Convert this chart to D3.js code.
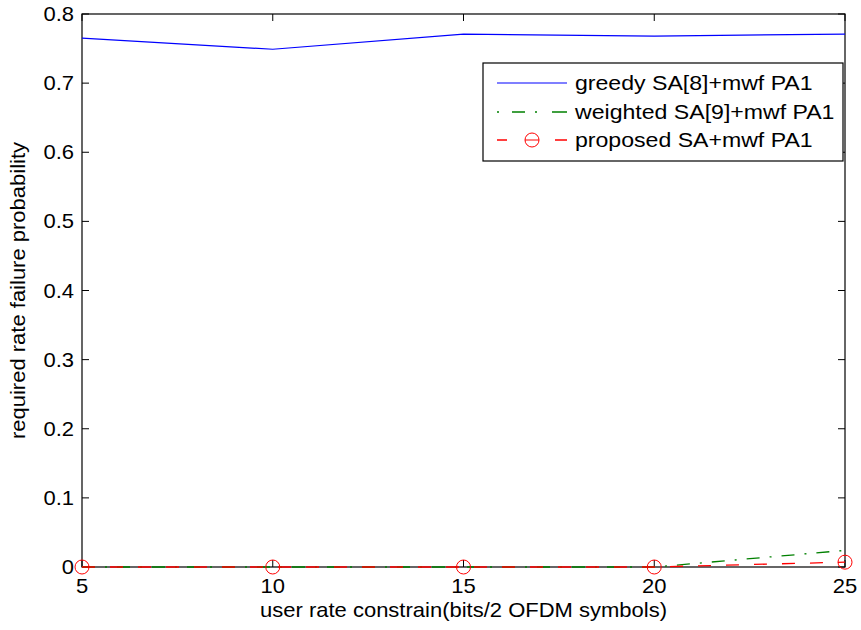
<!DOCTYPE html>
<html>
<head>
<meta charset="utf-8">
<script src="https://cdn.jsdelivr.net/npm/d3@7"></script>
<style>
  html, body { margin: 0; padding: 0; background: #fff; }
  svg { display: block; }
  text { font-family: "Liberation Sans", Arial, Helvetica, sans-serif; fill: #000; }
</style>
</head>
<body>
<svg id="chart" width="861" height="630"></svg>
<script>
// User rate constraint (bits / 2 OFDM symbols)
const rates = [5, 10, 15, 20, 25];
// Required-rate failure probability per scheme
const greedy   = [0.765, 0.749, 0.771, 0.768, 0.771];
const weighted = [0, 0, 0, 0, 0.024];
const proposed = [0, 0, 0, 0, 0.007];

const xTicks = [5, 10, 15, 20, 25];
const yTicks = [0, 0.1, 0.2, 0.3, 0.4, 0.5, 0.6, 0.7, 0.8];
const seriesNames = ["greedy SA[8]+mwf PA1", "weighted SA[9]+mwf PA1", "proposed SA+mwf PA1"];

const svg = d3.select("#chart");
const L = 82, R = 845, T = 14, B = 567;
const FS = 20, SX = 1.1;      // font size and horizontal stretch of labels

const x = d3.scaleLinear().domain([5, 25]).range([L, R]);
const y = d3.scaleLinear().domain([0, 0.8]).range([B, T]);

function label(g, px, py, str, anchor, rot, fs) {
  return g.append("text")
    .attr("transform", `translate(${px},${py})` + (rot ? ` rotate(${rot})` : "") + ` scale(${SX},1)`)
    .attr("text-anchor", anchor)
    .attr("font-size", fs || FS)
    .text(str);
}

// Axes box with inward ticks on all sides
const ax = svg.append("g");
ax.append("rect").attr("x", L).attr("y", T).attr("width", R - L).attr("height", B - T)
  .attr("fill", "none").attr("stroke", "#000").attr("stroke-width", 1.2);

const tickLen = 7;
xTicks.forEach(v => {
  const px = x(v);
  ax.append("line").attr("x1", px).attr("x2", px).attr("y1", B).attr("y2", B - tickLen)
    .attr("stroke", "#000").attr("stroke-width", 1);
  ax.append("line").attr("x1", px).attr("x2", px).attr("y1", T).attr("y2", T + tickLen)
    .attr("stroke", "#000").attr("stroke-width", 1);
  label(ax, px, 593, String(v), "middle");
});
yTicks.forEach(v => {
  const py = y(v);
  ax.append("line").attr("x1", L).attr("x2", L + tickLen).attr("y1", py).attr("y2", py)
    .attr("stroke", "#000").attr("stroke-width", 1);
  ax.append("line").attr("x1", R).attr("x2", R - tickLen).attr("y1", py).attr("y2", py)
    .attr("stroke", "#000").attr("stroke-width", 1);
  label(ax, 74, py + 7, d3.format("")(+v.toFixed(1)), "end");
});

label(svg, (L + R) / 2, 617, "user rate constrain(bits/2 OFDM symbols)", "middle");
label(svg, 25, (T + B) / 2, "required rate failure probability", "middle", -90);

// Series lines
const line = d3.line().x((d, i) => x(rates[i])).y(d => y(d));
const plot = svg.append("g");

plot.append("path").datum(greedy).attr("d", line)
  .attr("fill", "none").attr("stroke", "#0000ff").attr("stroke-width", 1.2);
plot.append("path").datum(weighted).attr("d", line)
  .attr("fill", "none").attr("stroke", "#008000").attr("stroke-width", 1.3)
  .attr("stroke-dasharray", "13,10,2,10");
plot.append("path").datum(proposed).attr("d", line)
  .attr("fill", "none").attr("stroke", "#ff0000").attr("stroke-width", 1.3)
  .attr("stroke-dasharray", "13,15");
plot.selectAll("circle.mk").data(proposed).enter().append("circle")
  .attr("class", "mk")
  .attr("cx", (d, i) => x(rates[i])).attr("cy", d => y(d)).attr("r", 7)
  .attr("fill", "none").attr("stroke", "#ff0000").attr("stroke-width", 1);

// Legend
const lg = svg.append("g");
lg.append("rect").attr("x", 483).attr("y", 63).attr("width", 360).attr("height", 98)
  .attr("fill", "#fff").attr("stroke", "#000").attr("stroke-width", 1.2);
const rowY = [83, 112, 140];
const lx1 = 497, lx2 = 567;
lg.append("line").attr("x1", lx1).attr("x2", lx2).attr("y1", rowY[0]).attr("y2", rowY[0])
  .attr("stroke", "#0000ff").attr("stroke-width", 1.2);
lg.append("line").attr("x1", lx1).attr("x2", lx2).attr("y1", rowY[1]).attr("y2", rowY[1])
  .attr("stroke", "#008000").attr("stroke-width", 1.3)
  .attr("stroke-dasharray", "2,13,13,10,2,15,15");
lg.append("line").attr("x1", lx1).attr("x2", lx2).attr("y1", rowY[2]).attr("y2", rowY[2])
  .attr("stroke", "#ff0000").attr("stroke-width", 1.3)
  .attr("stroke-dasharray", "10,48,12");
lg.append("line").attr("x1", 525).attr("x2", 539).attr("y1", rowY[2]).attr("y2", rowY[2])
  .attr("stroke", "#ff0000").attr("stroke-width", 1);
lg.append("circle").attr("cx", (lx1 + lx2) / 2).attr("cy", rowY[2]).attr("r", 7)
  .attr("fill", "none").attr("stroke", "#ff0000").attr("stroke-width", 1);
seriesNames.forEach((s, i) => label(lg, 575, rowY[i] + 7, s, "start", 0, 21));
</script>
</body>
</html>
